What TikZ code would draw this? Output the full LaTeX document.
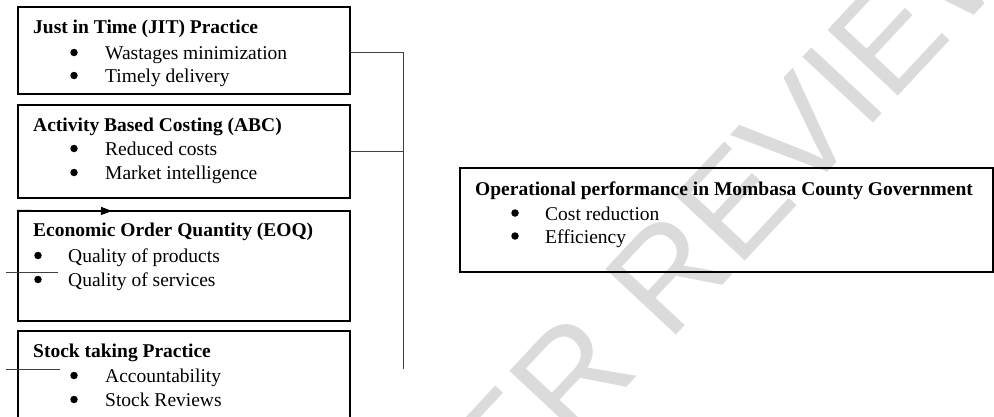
\documentclass[tikz,border=0pt]{standalone}
\usepackage{fontspec}
\setmainfont{Liberation Serif}
\setsansfont{Liberation Sans}
\usetikzlibrary{arrows.meta,positioning,calc}

\begin{document}
\begin{tikzpicture}[x=1pt,y=-1pt,
  box/.style={draw, line width=1.3pt, rectangle, inner sep=0pt},
  head/.style={anchor=base west, inner sep=0pt, font=\fontsize{19.5}{24}\selectfont\bfseries},
  item/.style={anchor=base west, inner sep=0pt, font=\fontsize{19.5}{24}\selectfont},
  bul/.style={circle, fill=black, inner sep=0pt, minimum size=7.5pt},
  link/.style={line width=0.9pt, draw=black!75}]
\useasboundingbox (0,0) rectangle (994,416);

% watermark
\node[text=black!14, rotate=47, font=\sffamily\fontsize{140}{140}\selectfont] (mark) at (678,262) {PEER REVIEW};

% Just in Time box
\node[box, minimum width=332pt, minimum height=87pt] (jit) at (184,50.5) {};
\node[head] (jitT) at (33,33) {Just in Time (JIT) Practice};
\node[bul] (jitd1) at (74,52.5) {};
\node[item] (jit1) at (105,59) {Wastages minimization};
\node[bul] (jitd2) at (74,75.5) {};
\node[item] (jit2) at (105,82) {Timely delivery};

% Activity Based Costing box
\node[box, minimum width=332pt, minimum height=93pt] (abc) at (184,151.5) {};
\node[head] (abcT) at (33,131) {Activity Based Costing (ABC)};
\node[bul] (abcd1) at (74,148.5) {};
\node[item] (abc1) at (105,155) {Reduced costs};
\node[bul] (abcd2) at (74,172.5) {};
\node[item] (abc2) at (105,179) {Market intelligence};

% Economic Order Quantity box
\node[box, minimum width=332pt, minimum height=110pt] (eoq) at (184,266) {};
\node[head] (eoqT) at (33,236) {Economic Order Quantity (EOQ)};
\node[bul] (eoqd1) at (38,255.5) {};
\node[item] (eoq1) at (68,262) {Quality of products};
\node[bul] (eoqd2) at (38,279.5) {};
\node[item] (eoq2) at (68,286) {Quality of services};

% Stock taking box
\node[box, minimum width=332pt, minimum height=99pt] (stock) at (184,380.5) {};
\node[head] (stockT) at (33,357) {Stock taking Practice};
\node[bul] (stockd1) at (74,375.5) {};
\node[item] (stock1) at (105,382) {Accountability};
\node[bul] (stockd2) at (74,399.5) {};
\node[item] (stock2) at (105,406) {Stock Reviews};

% Operational performance box
\node[box, minimum width=533pt, minimum height=104pt] (perf) at (726.5,220) {};
\node[head] (perfT) at (475,195) {Operational performance in Mombasa County Government};
\node[bul] (perfd1) at (515,213) {};
\node[item] (perf1) at (545,220) {Cost reduction};
\node[bul] (perfd2) at (515,236) {};
\node[item] (perf2) at (545,243) {Efficiency};

% Connectors
\coordinate (vtop) at (403,52);
\coordinate (vbot) at (403,369);
\draw[link] (jit.east |- vtop) -- (vtop) -- (vbot);
\draw[link] (abc.east) -- (abc.east -| vbot);

\coordinate (eoqL) at (6,272);
\coordinate (eoqR) at (58,272);
\draw[link] (eoqL) -- (eoqR);
\coordinate (stockL) at (6,369);
\coordinate (stockR) at (60,369);
\draw[link] (stockL) -- (stockR);

\coordinate (arrtip) at (112,211);
\draw[link, draw=black, -{Triangle[length=11pt,width=8pt]}] (eoq.north west) -- (arrtip);
\end{tikzpicture}
\end{document}
